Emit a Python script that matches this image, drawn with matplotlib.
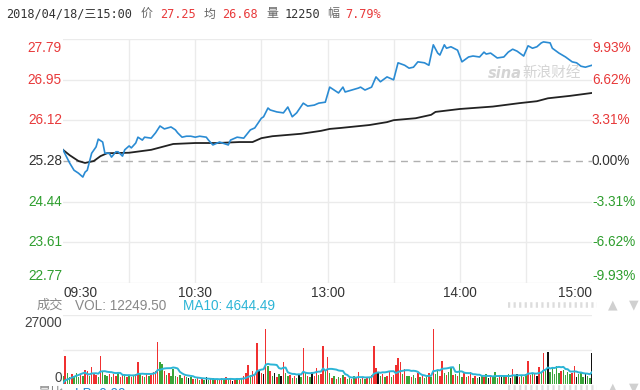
import matplotlib
matplotlib.use("Agg")
import matplotlib.pyplot as plt
import numpy as np
import pandas as pd

W, H = 640, 390

# ---------------- data ----------------
price_ticks = [27.79, 26.95, 26.12, 25.28, 24.44, 23.61, 22.77]
pct_labels = ["9.93%", "6.62%", "3.31%", "0.00%", "-3.31%", "-6.62%", "-9.93%"]
base_price = 25.28
time_pos = [0, 60, 120, 180, 240]
time_labels = ["09:30", "10:30", "13:00", "14:00", "15:00"]

last_price = 27.25
last_avg = 26.68
last_vol_lots = 12250
change_pct = "7.79%"
vol_last = 12249.50
ma10_last = 4644.49

price_min = [0,3,5,7,9,10,11,13,15,16,
             18,19,21,22,24,25,27,28,30,31,
             33,34,36,37,40,42,44,46,49,51,
             52,54,56,58,60,62,65,66,68,70,
             71,75,76,79,82,85,87,90,91,93,
             94,97,100,102,104,106,109,111,114,116,
             119,121,123,125,127,128,131,134,135,137,
             140,142,144,147,150,152,155,157,159,161,
             164,166,168,170,171,173,174,176,179,181,
             184,186,189,191,192,194,197,200,202,204,
             206,209,211,213,215,217,218,221,222,225,
             228,231,233,235,237,240]
price_val = [25.51,25.24,25.09,25.03,24.95,25.05,25.09,25.44,25.57,25.73,
             25.67,25.44,25.44,25.36,25.47,25.47,25.38,25.51,25.59,25.55,
             25.65,25.77,25.71,25.77,25.75,25.86,26.00,25.94,25.98,25.92,
             25.86,25.77,25.79,25.79,25.77,25.79,25.77,25.71,25.61,25.65,
             25.67,25.61,25.71,25.77,25.75,25.92,25.96,26.16,26.19,26.37,
             26.33,26.29,26.27,26.39,26.19,26.27,26.47,26.41,26.43,26.47,
             26.49,26.80,26.74,26.68,26.80,26.70,26.74,26.78,26.80,26.74,
             26.80,27.01,26.91,27.01,26.95,27.30,27.25,27.19,27.21,27.32,
             27.30,27.25,27.67,27.50,27.46,27.67,27.60,27.63,27.56,27.32,
             27.42,27.44,27.42,27.52,27.48,27.50,27.40,27.42,27.52,27.58,
             27.54,27.44,27.65,27.60,27.63,27.71,27.73,27.71,27.60,27.50,
             27.42,27.32,27.30,27.23,27.21,27.25]

avg_min = [0,3,7,10,14,17,20,30,40,45,50,60,70,80,86,90,95,108,117,121,
           126,139,147,150,160,167,169,180,195,207,215,220,230,240]
avg_val = [25.51,25.40,25.28,25.24,25.28,25.38,25.44,25.45,25.51,25.57,
           25.63,25.65,25.65,25.67,25.67,25.75,25.79,25.84,25.90,25.94,
           25.96,26.02,26.08,26.12,26.16,26.23,26.29,26.35,26.40,26.47,
           26.51,26.57,26.62,26.68]

volume = [3000,11000,4200,2800,3900,3000,4500,2600,3800,3200,
          5600,5200,3000,6500,4200,3500,2800,11000,4800,3600,
          3300,4000,2700,3800,3100,4400,2600,3500,4100,2900,
          3600,2800,3300,4000,8500,4400,3200,2700,3900,3000,
          3400,4600,5200,16500,8500,7800,5200,3600,4300,3000,
          6000,3200,2700,3500,2400,3000,2600,2200,2800,2000,
          1800,2300,1500,2100,1700,2600,1400,1900,2200,1600,
          2000,1500,2400,1800,2900,1600,2100,1300,1900,2300,
          1700,2500,3300,4200,7500,3600,5200,4000,16000,5600,
          4500,3800,21500,7200,5200,3300,4500,2800,3800,3000,
          8500,4500,3000,3600,2500,3200,2200,3800,2700,14000,
          4600,3000,2600,4700,3300,6200,3500,4000,15000,5200,
          10500,4200,2500,3300,2000,2800,2200,3400,2600,1900,
          2500,2100,3000,2300,4600,2000,2700,1800,2900,2200,
          3500,15000,6200,4600,3000,3800,2600,3300,5200,2800,
          3500,7500,10000,8600,4000,6000,3200,3000,2600,3400,
          2400,4300,2800,3600,2500,3200,4200,2900,21500,4000,
          5600,3000,9000,4200,3500,4800,6500,3400,4000,3000,
          8000,2800,4200,2600,3300,4600,2500,3100,2400,2800,
          3600,2600,4000,2500,3300,2700,4600,2400,3100,2900,
          3300,2600,3800,2400,6000,3000,4100,2800,3500,2600,
          3800,9000,3600,4400,4000,3000,6600,4200,12000,5500,
          12500,4800,6200,3800,7000,4400,5200,5600,3600,4700,
          3900,4200,7000,2800,3800,4200,2600,4300,3000,2300,
          12249.5]
vol_dir = ("grggrgggrg" "rrgrrrgrgg" "grgrrgrrgr" "grgrrgrgrg" "rrrrggrgrg"
           "ggrggrgkgr" "grgrgkgrgr" "grrgrgrkrg" "rgrrrgrrrk" "rkrgrgkrgk"
           "rggrgrgkgr" "grgkrrgrrg" "rgrgrgrgrg" "grgrrgrgrg" "rrrkgrgrrg"
           "rrrrgrggrg" "grgrggrgrg" "grrgrggrgr" "ggrgrrgrgk" "grgkrgggrk"
           "grgkrgkrgr" "grrgrkrgrg" "kgggggrggg" "grrkgggkgg" "k")
vol_ticks = [0, 27000]
vol_tick_labels = ["0", "27000"]

# ---------------- style ----------------
RED = "#e8393a"
GREEN = "#2e9e2e"
DARK = "#333333"
GRAY = "#888888"
CYAN = "#2cb5d6"
BLUE = "#2a8bd3"
GRID = "#ebebeb"
FONT = ["Liberation Sans", "Noto Sans CJK SC"]
MONO = ["DejaVu Sans Mono", "Noto Sans CJK SC"]

fig = plt.figure(figsize=(W / 100, H / 100), dpi=100)
fig.patch.set_facecolor("white")

def fx(x):
    return x / W

def fy(y):
    return 1 - y / H

# ---------------- price panel ----------------
x0, x1 = 63, 592
ax = fig.add_axes([fx(x0), fy(283), (x1 - x0) / W, (283 - 39) / H])
ax.set_xlim(0, 240)
ax.set_ylim(price_ticks[-1], price_ticks[0])
for s in ax.spines.values():
    s.set_visible(False)
ax.set_xticks([])
ax.set_yticks([])
ax.patch.set_alpha(0)

for v in price_ticks:
    if v == base_price:
        ax.axhline(v, color="#b0b0b0", lw=1.0, ls=(0, (5, 4)), zorder=1)
    else:
        ax.axhline(v, color=GRID, lw=1.0, zorder=0)
for m in range(30, 240, 30):
    ax.axvline(m, color=GRID, lw=1.0, zorder=0)

ax.plot(avg_min, avg_val, color="#222222", lw=1.3, zorder=3)
ax.plot(price_min, price_val, color=BLUE, lw=1.2, zorder=4)

n = len(price_ticks)
for i, (v, lab) in enumerate(zip(price_ticks, pct_labels)):
    if v > base_price:
        c = RED
    elif v < base_price:
        c = GREEN
    else:
        c = DARK
    dy = 0
    if i == 0:
        dy = -9
    elif i == n - 1:
        dy = 7
    ax.annotate(f"{v:.2f}", xy=(0, v), xycoords=("axes fraction", "data"),
                xytext=(-1, dy), textcoords="offset pixels", ha="right",
                va="center", color=c, fontsize=9.8, family=FONT)
    ax.annotate(lab, xy=(1, v), xycoords=("axes fraction", "data"),
                xytext=(0, dy), textcoords="offset pixels", ha="left",
                va="center", color=c, fontsize=9.8, family=FONT)

for p, lab in zip(time_pos, time_labels):
    ha = "left" if p == time_pos[0] else ("right" if p == time_pos[-1] else "center")
    ax.annotate(lab, xy=(p, 0), xycoords=("data", "axes fraction"),
                xytext=(0, -10), textcoords="offset pixels", ha=ha,
                va="center", color=DARK, fontsize=9.8, family=FONT)

# watermark
fig.text(fx(488), fy(73), "sina", fontsize=10.5, fontweight="bold", style="italic",
         color="#d4d4d4", family="DejaVu Sans", va="center", ha="left")
fig.text(fx(522), fy(73), "新浪财经", fontsize=10.5, color="#d4d4d4",
         family=FONT, va="center", ha="left")

# ---------------- header ----------------
hy = fy(14)
hdr = [(6, "2018/04/18/三15:00", DARK), (141, "价", "#666666"), (160, f"{last_price:.2f}", RED),
       (204, "均", "#666666"), (222, f"{last_avg:.2f}", RED), (266, "量", "#666666"),
       (285, f"{last_vol_lots}", DARK), (327, "幅", "#666666"), (345, change_pct, RED)]
for x, s, c in hdr:
    fig.text(fx(x), hy, s, fontsize=8.6, color=c, family=MONO, va="center", ha="left")

# ---------------- volume panel ----------------
vax = fig.add_axes([fx(x0), fy(384), (x1 - x0) / W, (384 - 315) / H])
vax.set_xlim(0, 240)
vax.set_ylim(0, 27000)
for s in vax.spines.values():
    s.set_visible(False)
vax.set_xticks([])
vax.set_yticks([])
vax.patch.set_alpha(0)
vax.axhline(27000, color=GRID, lw=1.0, zorder=0)
vax.axhline(13500, color=GRID, lw=1.0, zorder=0)

cmap = {"r": "#f03030", "g": "#3aa53a", "k": "#111111"}
xs = np.arange(len(volume))
vax.bar(xs, volume, width=0.65, color=[cmap[c] for c in vol_dir], zorder=2, linewidth=0)
ma10 = pd.Series(volume, dtype=float).rolling(10, min_periods=1).sum() / 10
vax.plot(xs, ma10, color=CYAN, lw=1.4, zorder=3)

vax.annotate(vol_tick_labels[1], xy=(0, vol_ticks[1]), xycoords=("axes fraction", "data"),
             xytext=(-1, -8), textcoords="offset pixels", ha="right", va="center",
             color="#444444", fontsize=9.8, family=FONT)
vax.annotate(vol_tick_labels[0], xy=(0, vol_ticks[0]), xycoords=("axes fraction", "data"),
             xytext=(-1, 6), textcoords="offset pixels", ha="right", va="center",
             color="#444444", fontsize=9.8, family=FONT)

vy = fy(306)
fig.text(fx(37), vy, "成交", fontsize=9.5, color=GRAY, family=FONT, va="center", ha="left")
fig.text(fx(75), vy, f"VOL: {vol_last:.2f}", fontsize=9.8, color=GRAY, family=FONT,
         va="center", ha="left")
fig.text(fx(183), vy, f"MA10: {ma10_last:.2f}", fontsize=9.8, color=CYAN, family=FONT,
         va="center", ha="left")

# bottom partially visible row
fig.text(fx(37), fy(387), "量比", fontsize=9.5, color=GRAY, family=FONT, va="top", ha="left")
fig.text(fx(75), fy(387), "LB: 0.00", fontsize=9.8, color="#2a8bd3", family=FONT,
         va="top", ha="left")

# right-side controls
for yy in (305, 388):
    fig.add_artist(plt.Line2D([fx(508), fx(597)], [fy(yy), fy(yy)], color="#dddddd",
                              lw=4, ls=(0, (0.4, 0.6)), transform=fig.transFigure))
    fig.text(fx(613), fy(yy), "▲", fontsize=9, color="#d0d0d0", ha="center", va="center",
             family="DejaVu Sans")
    fig.text(fx(634), fy(yy), "▼", fontsize=9, color="#d0d0d0", ha="center", va="center",
             family="DejaVu Sans")

fig.savefig("out.png", dpi=100, facecolor="white")
